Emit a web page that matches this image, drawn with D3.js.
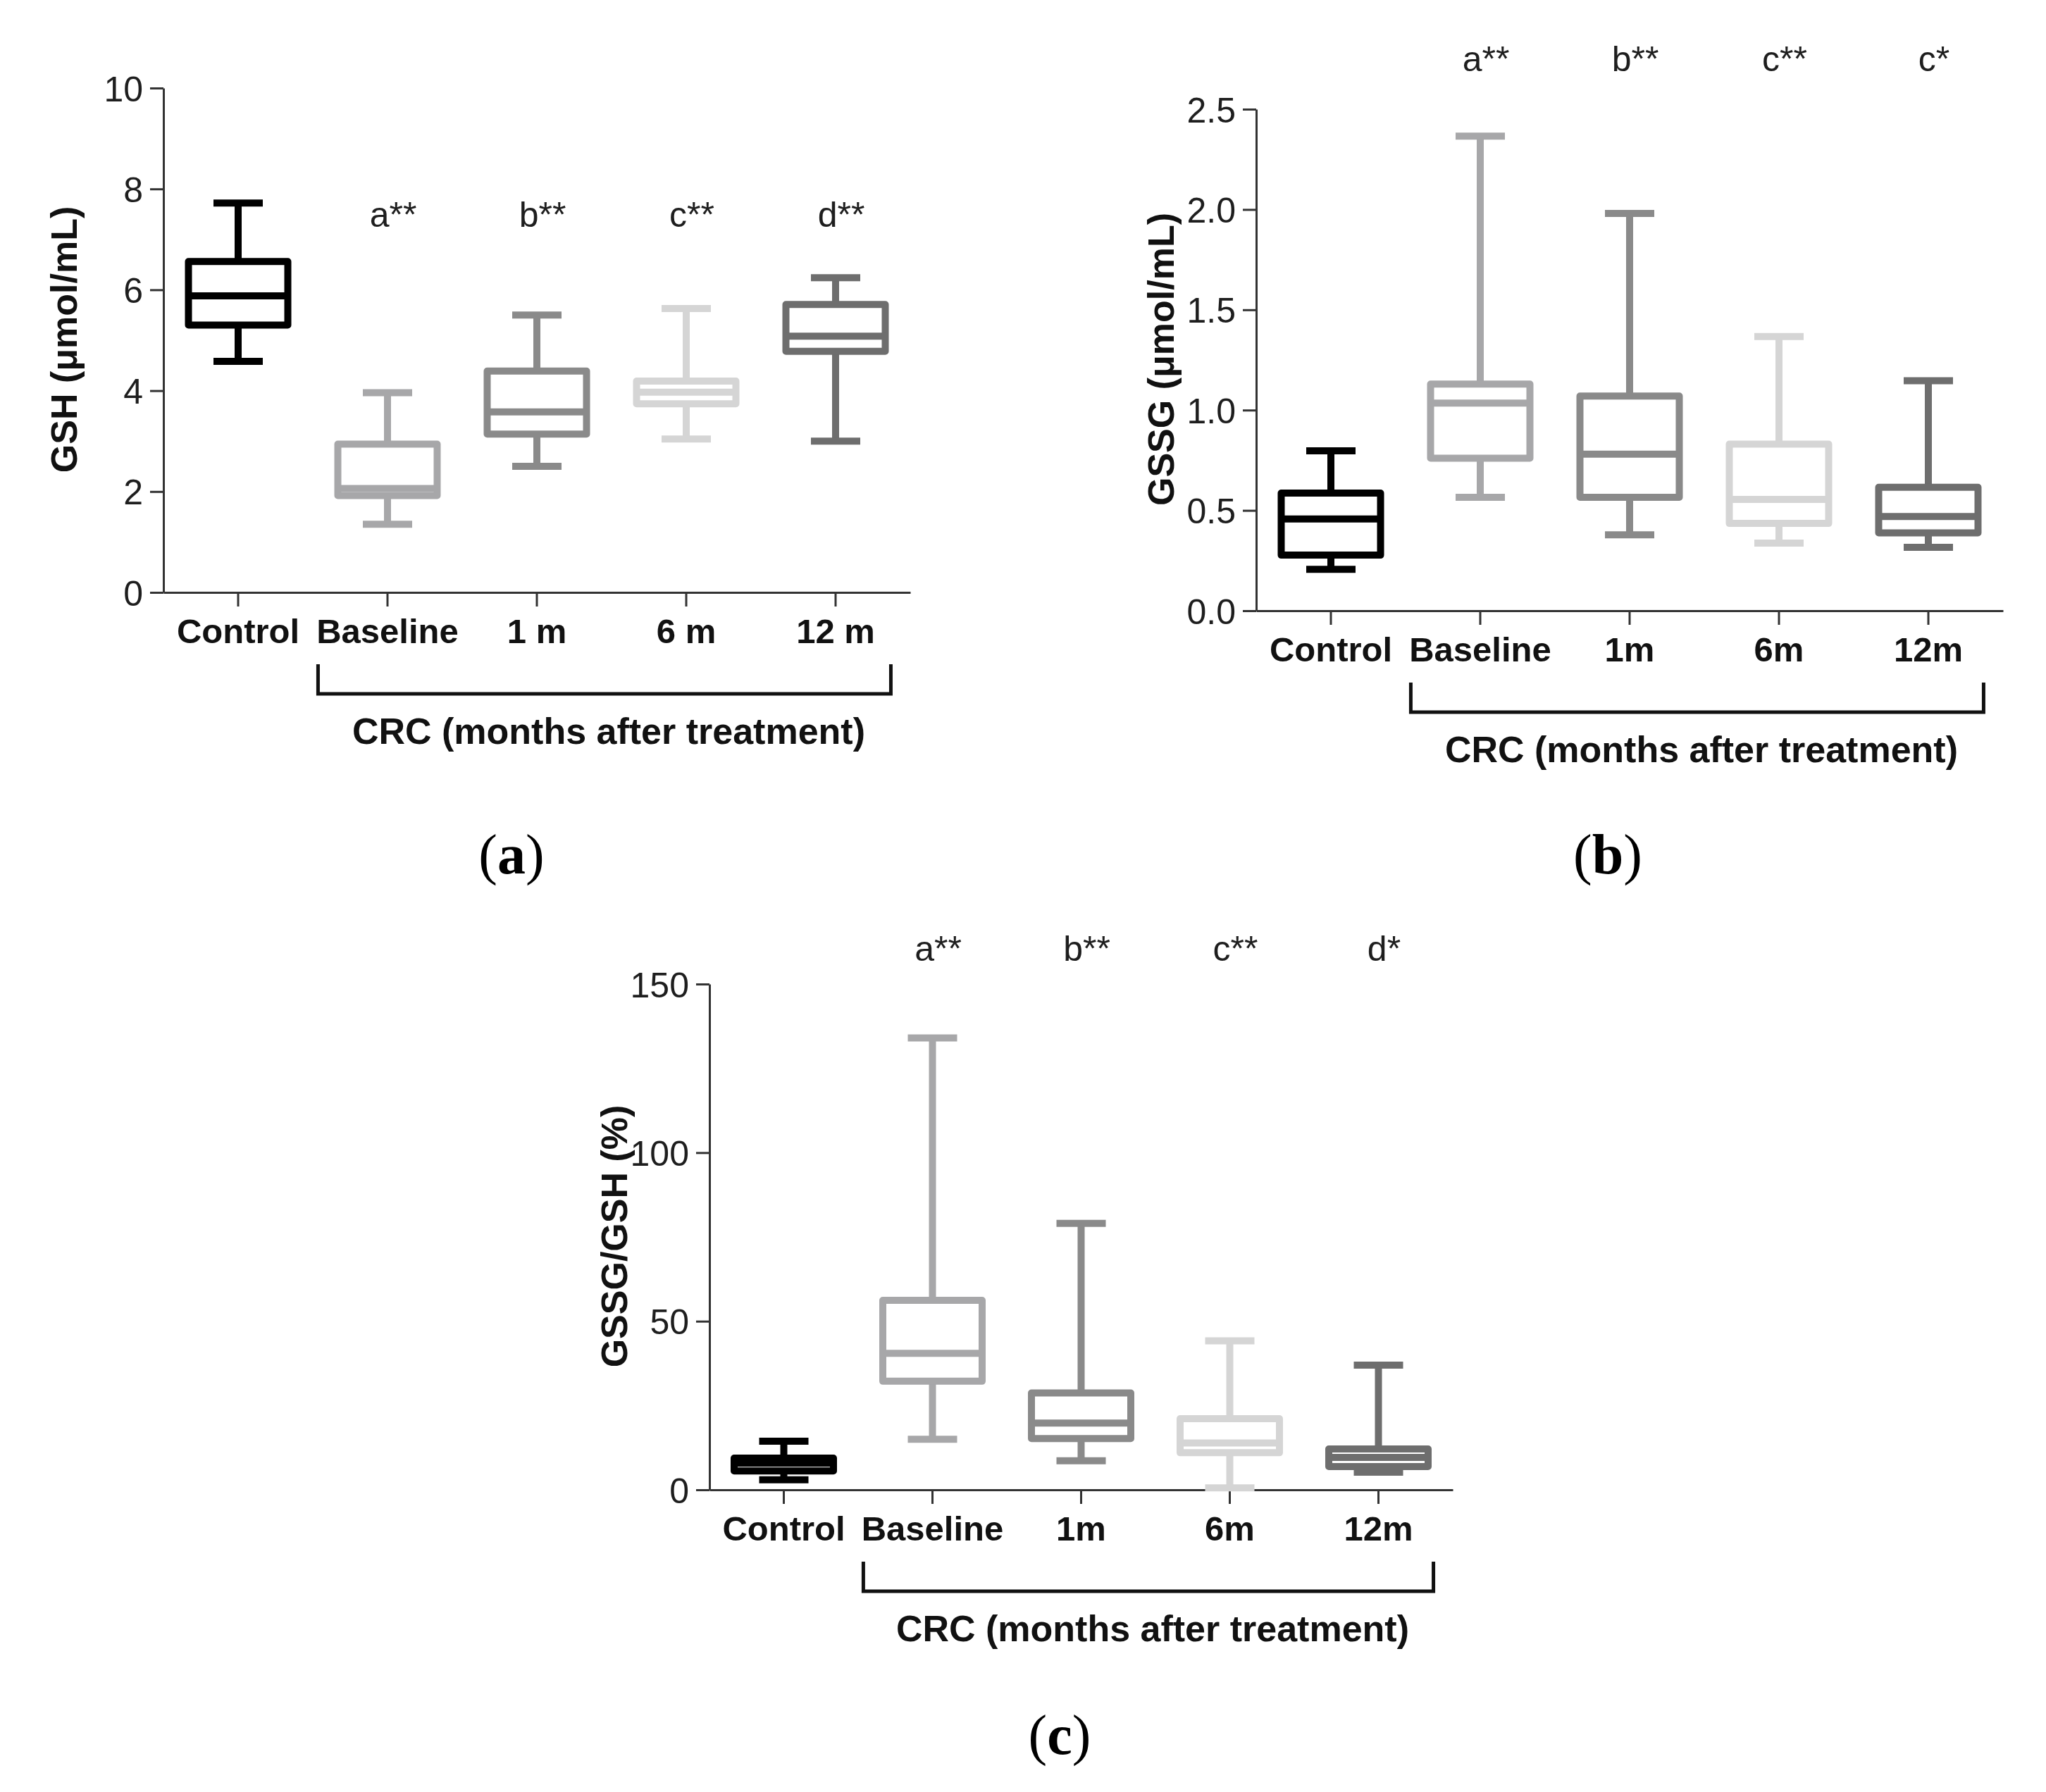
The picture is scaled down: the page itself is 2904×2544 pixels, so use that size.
<!DOCTYPE html>
<html>
<head>
<meta charset="utf-8">
<script src="https://cdn.jsdelivr.net/npm/d3@7"></script>
<style>
  html, body { margin: 0; padding: 0; background: #ffffff; }
  svg { display: block; }
</style>
</head>
<body>
<svg id="chart" width="2904" height="2544"></svg>
<script>
// ---------------- DATA ----------------
const categoriesA = ["Control", "Baseline", "1 m", "6 m", "12 m"];
const categoriesBC = ["Control", "Baseline", "1m", "6m", "12m"];
const groupColors = ["#000000", "#a7a7a9", "#8a8a8a", "#d5d5d5", "#6e6e6e"];

// (a) GSH (µmol/mL)
const gshMin    = [4.58, 1.35, 2.50, 3.04, 3.00];
const gshQ1     = [5.30, 1.92, 3.14, 3.74, 4.78];
const gshMedian = [5.88, 2.06, 3.58, 3.97, 5.08];
const gshQ3     = [6.56, 2.94, 4.39, 4.19, 5.71];
const gshMax    = [7.72, 3.96, 5.50, 5.63, 6.24];
const gshTicks  = [0, 2, 4, 6, 8, 10];
const gshSig    = ["", "a**", "b**", "c**", "d**"];

// (b) GSSG (µmol/mL)
const gssgMin    = [0.206, 0.565, 0.378, 0.337, 0.316];
const gssgQ1     = [0.277, 0.760, 0.565, 0.435, 0.388];
const gssgMedian = [0.457, 1.035, 0.780, 0.555, 0.470];
const gssgQ3     = [0.586, 1.130, 1.070, 0.830, 0.615];
const gssgMax    = [0.797, 2.366, 1.980, 1.367, 1.146];
const gssgTicks  = [0, 0.5, 1.0, 1.5, 2.0, 2.5];
const gssgSig    = ["", "a**", "b**", "c**", "c*"];

// (c) GSSG/GSH (%)
const ratioMin    = [3.0, 15.0, 8.6, 0.6, 5.2];
const ratioQ1     = [5.6, 32.2, 15.2, 11.0, 6.9];
const ratioMedian = [7.9, 40.5, 19.8, 13.9, 9.6];
const ratioQ3     = [9.4, 56.2, 28.7, 21.1, 12.1];
const ratioMax    = [14.4, 134.0, 79.0, 44.2, 37.0];
const ratioTicks  = [0, 50, 100, 150];
const ratioSig    = ["", "a**", "b**", "c**", "d*"];

// ---------------- DRAWING ----------------
const svg = d3.select("#chart");
const SANS = "'Liberation Sans', Arial, Helvetica, sans-serif";
const SERIF = "'Liberation Serif', 'Times New Roman', serif";

function drawPanel(cfg) {
  const g = svg.append("g");
  const x = d3.scaleBand().domain(cfg.categories).range([cfg.left, cfg.right]).paddingInner(0).paddingOuter(0);
  const y = d3.scaleLinear().domain(cfg.domain).range([cfg.bottom, cfg.top]);
  const bw = x.bandwidth();

  // Y axis
  const yAxis = d3.axisLeft(y).tickValues(cfg.ticks).tickSize(19).tickSizeOuter(0).tickPadding(10)
    .tickFormat(cfg.fmt);
  const ya = g.append("g").attr("transform", `translate(${cfg.left},0)`).call(yAxis);
  ya.select(".domain").attr("stroke", "#333").attr("stroke-width", 3);
  ya.selectAll(".tick line").attr("stroke", "#333").attr("stroke-width", 3);
  ya.selectAll(".tick text").attr("font-family", SANS).attr("font-size", 50)
    .attr("fill", "#1e1e1e").attr("dy", "0.36em");

  // X axis
  const xAxis = d3.axisBottom(x).tickSize(20).tickSizeOuter(0);
  const xa = g.append("g").attr("transform", `translate(0,${cfg.bottom})`).call(xAxis);
  xa.select(".domain").attr("stroke", "#333").attr("stroke-width", 3);
  xa.selectAll(".tick line").attr("stroke", "#333").attr("stroke-width", 3);
  xa.selectAll(".tick text").attr("font-family", SANS).attr("font-size", 49)
    .attr("font-weight", "bold").attr("fill", "#111").attr("y", 72).attr("dy", 0);

  // Boxes
  const rows = cfg.categories.map((c, i) => ({
    cat: c, min: cfg.min[i], q1: cfg.q1[i], med: cfg.median[i], q3: cfg.q3[i], max: cfg.max[i],
    color: groupColors[i], sig: cfg.sig[i]
  }));
  const boxW = 141, capW = 70, sw = 10;
  const bg = g.append("g");
  rows.forEach(d => {
    const cx = x(d.cat) + bw / 2;
    const gg = bg.append("g").attr("stroke", d.color).attr("stroke-width", sw).attr("fill", "none");
    // whiskers
    gg.append("line").attr("x1", cx).attr("x2", cx).attr("y1", y(d.max)).attr("y2", y(d.q3));
    gg.append("line").attr("x1", cx).attr("x2", cx).attr("y1", y(d.q1)).attr("y2", y(d.min));
    // caps
    gg.append("line").attr("x1", cx - capW / 2).attr("x2", cx + capW / 2).attr("y1", y(d.max)).attr("y2", y(d.max));
    gg.append("line").attr("x1", cx - capW / 2).attr("x2", cx + capW / 2).attr("y1", y(d.min)).attr("y2", y(d.min));
    // box
    gg.append("rect").attr("x", cx - boxW / 2).attr("width", boxW)
      .attr("y", y(d.q3)).attr("height", y(d.q1) - y(d.q3))
      .attr("stroke-linejoin", "round");
    // median
    gg.append("line").attr("x1", cx - boxW / 2).attr("x2", cx + boxW / 2).attr("y1", y(d.med)).attr("y2", y(d.med));
    // significance
    if (d.sig) {
      g.append("text").attr("x", cx + 8).attr("y", cfg.sigY).attr("text-anchor", "middle")
        .attr("font-family", SANS).attr("font-size", 50).attr("fill", "#1e1e1e").text(d.sig);
    }
  });

  // Bracket
  const step = x.step();
  const bx1 = x(cfg.categories[1]) + bw / 2 - 0.465 * step;
  const bx2 = x(cfg.categories[4]) + bw / 2 + 0.37 * step;
  const by = cfg.bottom + 144, byTop = cfg.bottom + 102;
  g.append("path").attr("d", `M${bx1},${byTop}V${by}H${bx2}V${byTop}`)
    .attr("fill", "none").attr("stroke", "#111").attr("stroke-width", 5);
  g.append("text").attr("x", (bx1 + bx2) / 2 + 6).attr("y", cfg.bottom + 215).attr("text-anchor", "middle")
    .attr("font-family", SANS).attr("font-size", 52).attr("font-weight", "bold").attr("fill", "#111")
    .text("CRC (months after treatment)");

  // Y title
  g.append("text").attr("transform", `translate(${cfg.titleX},${cfg.titleY}) rotate(-90)`)
    .attr("text-anchor", "middle").attr("dy", "0.35em")
    .attr("font-family", SANS).attr("font-size", 52).attr("font-weight", "bold").attr("fill", "#111")
    .text(cfg.title);

  // Panel label
  const lab = g.append("text").attr("x", cfg.labelX).attr("y", cfg.labelY).attr("text-anchor", "middle")
    .attr("font-family", SERIF).attr("font-size", 80).attr("fill", "#000");
  lab.append("tspan").text("(");
  lab.append("tspan").attr("font-weight", "bold").text(cfg.label);
  lab.append("tspan").text(")");
}

drawPanel({
  categories: categoriesA, domain: [0, 10], ticks: gshTicks, fmt: d3.format("d"),
  min: gshMin, q1: gshQ1, median: gshMedian, q3: gshQ3, max: gshMax, sig: gshSig,
  left: 232, right: 1292, top: 125, bottom: 841, sigY: 322,
  title: "GSH (\u03bcmol/mL)", titleX: 91, titleY: 482,
  label: "a", labelX: 726, labelY: 1240
});

drawPanel({
  categories: categoriesBC, domain: [0, 2.5], ticks: gssgTicks, fmt: d3.format(".1f"),
  min: gssgMin, q1: gssgQ1, median: gssgMedian, q3: gssgQ3, max: gssgMax, sig: gssgSig,
  left: 1783, right: 2843, top: 155, bottom: 867, sigY: 101,
  title: "GSSG (\u03bcmol/mL)", titleX: 1648, titleY: 510,
  label: "b", labelX: 2282, labelY: 1240
});

drawPanel({
  categories: categoriesBC, domain: [0, 150], ticks: ratioTicks, fmt: d3.format("d"),
  min: ratioMin, q1: ratioQ1, median: ratioMedian, q3: ratioQ3, max: ratioMax, sig: ratioSig,
  left: 1007, right: 2062, top: 1397, bottom: 2115, sigY: 1364,
  title: "GSSG/GSH (%)", titleX: 872, titleY: 1755,
  label: "c", labelX: 1504, labelY: 2490
});
</script>
</body>
</html>
